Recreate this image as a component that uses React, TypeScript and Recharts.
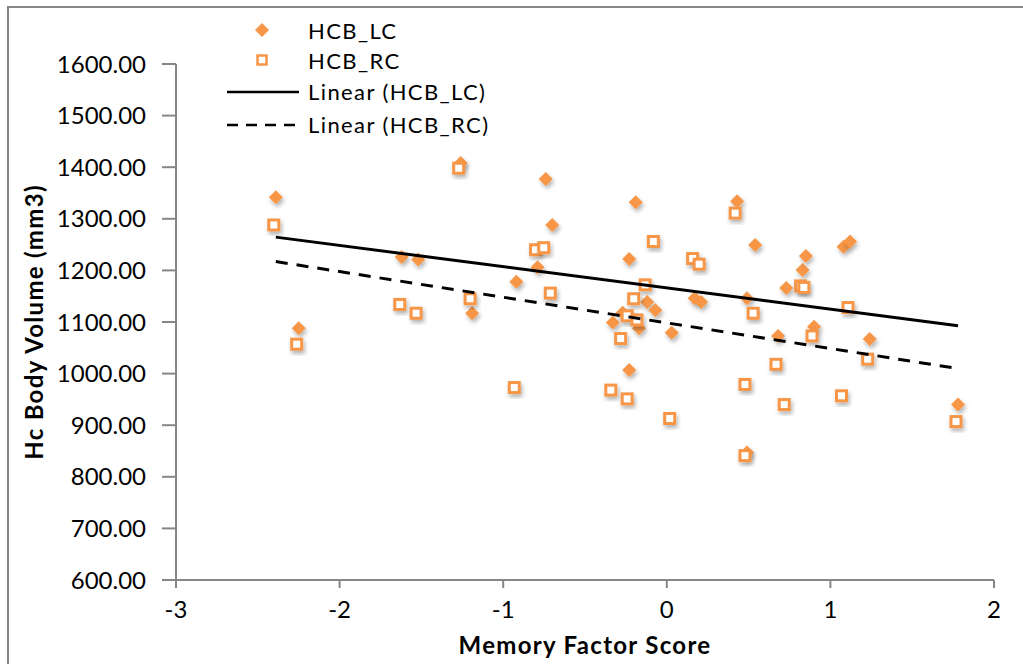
import React from 'react';
import { ScatterChart, Scatter, XAxis, YAxis } from 'recharts';

// memory factor score per subject (x) and body volumes of the two sides (mm3)
const memoryScore = [
  -2.39, -2.25, -1.62, -1.52, -1.26, -1.19, -0.92, -0.79, -0.74, -0.7,
  -0.33, -0.27, -0.23, -0.23, -0.19, -0.17, -0.12, -0.07,
  0.03, 0.17, 0.21, 0.43, 0.49, 0.49, 0.54, 0.68, 0.73, 0.83, 0.85, 0.9,
  1.08, 1.12, 1.24, 1.78,
];
const hcbLC = [
  1342, 1088, 1226, 1221, 1408, 1117, 1178, 1206, 1377, 1288,
  1099, 1118, 1007, 1222, 1332, 1088, 1139, 1123,
  1079, 1146, 1139, 1334, 1146, 847, 1249, 1073, 1166, 1201, 1228, 1091,
  1246, 1256, 1067, 940,
];
const hcbRC = [
  1288, 1057, 1134, 1117, 1398, 1145, 973, 1240, 1244, 1156,
  968, 1068, 951, 1112, 1145, 1104, 1172, 1256,
  913, 1223, 1212, 1311, 979, 841, 1117, 1018, 940, 1170, 1167, 1073,
  957, 1128, 1028, 907,
];

const xTicks = [-3, -2, -1, 0, 1, 2];
const yTicks = [600, 700, 800, 900, 1000, 1100, 1200, 1300, 1400, 1500, 1600];
const seriesNames = ['HCB_LC', 'HCB_RC', 'Linear (HCB_LC)', 'Linear (HCB_RC)'];

const lcPoints = memoryScore.map((x, i) => ({ x, y: hcbLC[i] }));
const rcPoints = memoryScore.map((x, i) => ({ x, y: hcbRC[i] }));

const ORANGE = '#F79646';
const AXIS = '#868686';
const FONT = 'Lato, "Open Sans", sans-serif';

const Diamond = (props: any) => {
  const { cx, cy } = props;
  const r = 7;
  return (
    <path
      d={`M${cx},${cy - r}L${cx + r},${cy}L${cx},${cy + r}L${cx - r},${cy}Z`}
      fill={ORANGE}
      filter="url(#markerShadow)"
    />
  );
};

// nudge squares 2px left so a subject's two markers don't stack exactly
const HollowSquare = (props: any) => {
  const { cx, cy } = props;
  const s = 10;
  return (
    <rect
      x={cx - 2 - s / 2}
      y={cy - s / 2}
      width={s}
      height={s}
      fill="#fff"
      stroke={ORANGE}
      strokeWidth={3}
      filter="url(#markerShadow)"
    />
  );
};

const NoMarker = () => <g />;

const legendIcons = [
  <path d="M35,6L42,13L35,20L28,13Z" fill={ORANGE} />,
  <rect x={30.5} y={8.5} width={9} height={9} fill="#fff" stroke={ORANGE} strokeWidth={2.5} />,
  <line x1={0} y1={13} x2={72} y2={13} stroke="#000" strokeWidth={2.5} />,
  <line x1={0} y1={13} x2={72} y2={13} stroke="#000" strokeWidth={2.5} strokeDasharray="11 8" />,
];

const ChartLegend = () => (
  <div
    style={{
      position: 'absolute',
      left: 227,
      top: 15,
      fontFamily: FONT,
      fontSize: 22,
      letterSpacing: 1.4,
      color: '#000',
    }}
  >
    {seriesNames.map((name, i) => (
      <div key={name} style={{ display: 'flex', alignItems: 'center', height: i < 2 ? 30 : 33 }}>
        <svg width={72} height={26} style={{ flex: 'none' }}>
          {legendIcons[i]}
        </svg>
        <span style={{ marginLeft: 9, whiteSpace: 'nowrap' }}>{name}</span>
      </div>
    ))}
  </div>
);

const XTitle = (props: any) => {
  const { viewBox } = props;
  return (
    <text
      x={viewBox.x + viewBox.width / 2}
      y={viewBox.y + 74}
      textAnchor="middle"
      fontFamily={FONT}
      fontWeight="bold"
      fontSize={24}
      letterSpacing={1.3}
      fill="#000"
    >
      Memory Factor Score
    </text>
  );
};

const YTitle = (props: any) => {
  const { viewBox } = props;
  const cx = 33;
  const cy = viewBox.y + viewBox.height / 2;
  return (
    <text
      x={cx}
      y={cy}
      transform={`rotate(-90, ${cx}, ${cy})`}
      textAnchor="middle"
      dominantBaseline="central"
      fontFamily={FONT}
      fontWeight="bold"
      fontSize={24}
      letterSpacing={1.3}
      fill="#000"
    >
      Hc Body Volume (mm3)
    </text>
  );
};

export default function App() {
  return (
    <div style={{ position: 'fixed', left: 0, top: 0, width: 1023, height: 664, background: '#fff', overflow: 'hidden' }}>
      <svg width={0} height={0} style={{ position: 'absolute' }}>
        <defs>
          <filter id="markerShadow" x="-60%" y="-60%" width="220%" height="220%">
            <feDropShadow dx={1.5} dy={3} stdDeviation={2} floodColor="#000" floodOpacity={0.3} />
          </filter>
        </defs>
      </svg>
      <div
        style={{
          position: 'absolute',
          left: 7,
          top: 6,
          width: 1030,
          height: 680,
          borderLeft: `2px solid ${AXIS}`,
          borderTop: `2px solid ${AXIS}`,
        }}
      />
      <ScatterChart width={1023} height={664} margin={{ top: 64, right: 29, bottom: 4, left: 0 }}>
        <XAxis
          type="number"
          dataKey="x"
          domain={[-3, 2]}
          ticks={xTicks}
          allowDataOverflow
          height={80}
          axisLine={{ stroke: AXIS, strokeWidth: 2 }}
          tickLine={{ stroke: AXIS, strokeWidth: 2 }}
          tickSize={8}
          tickMargin={13}
          tick={{ fill: '#000', fontSize: 24, fontFamily: FONT }}
          label={<XTitle />}
        />
        <YAxis
          type="number"
          dataKey="y"
          domain={[600, 1600]}
          ticks={yTicks}
          allowDataOverflow
          width={176}
          axisLine={{ stroke: AXIS, strokeWidth: 2 }}
          tickLine={{ stroke: AXIS, strokeWidth: 2 }}
          tickSize={14}
          tickMargin={16}
          tickFormatter={(v: number) => v.toFixed(2)}
          tick={{ fill: '#000', fontSize: 24, fontFamily: FONT }}
          label={<YTitle />}
        />
        <Scatter name="HCB_LC" data={lcPoints} shape={Diamond} isAnimationActive={false} />
        <Scatter name="HCB_RC" data={rcPoints} shape={HollowSquare} isAnimationActive={false} />
        <Scatter
          name="Linear (HCB_LC)"
          data={lcPoints}
          shape={NoMarker}
          line={{ stroke: '#000', strokeWidth: 3 }}
          lineType="fitting"
          legendType="none"
          isAnimationActive={false}
        />
        <Scatter
          name="Linear (HCB_RC)"
          data={rcPoints}
          shape={NoMarker}
          line={{ stroke: '#000', strokeWidth: 3, strokeDasharray: '12 9' }}
          lineType="fitting"
          legendType="none"
          isAnimationActive={false}
        />
      </ScatterChart>
      <ChartLegend />
    </div>
  );
}
